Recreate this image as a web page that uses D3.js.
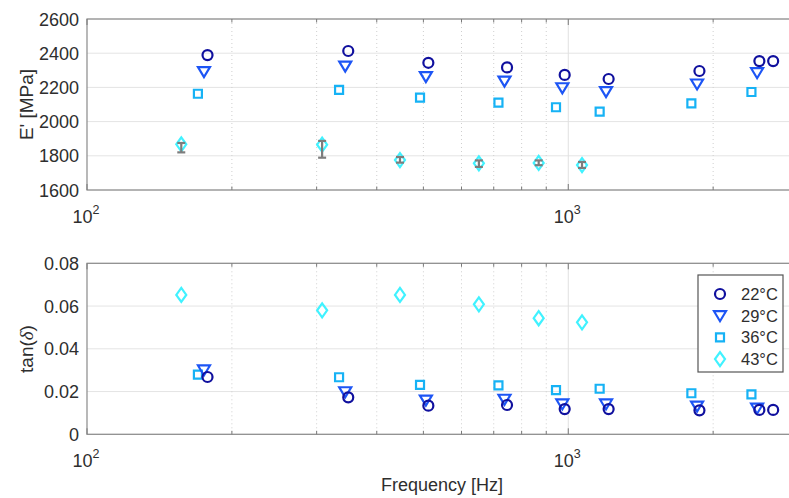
<!DOCTYPE html>
<html>
<head>
<meta charset="utf-8">
<script src="https://cdn.jsdelivr.net/npm/d3@7"></script>
<style>
  html, body { margin: 0; padding: 0; background: #fff; }
  svg { display: block; }
  text { font-family: "Liberation Sans", Arial, Helvetica, sans-serif; fill: #2e2e2e; }
</style>
</head>
<body>
<svg id="chart" width="789" height="498"></svg>
<script>
// ---------------- DATA ----------------
const seriesNames = ["22°C", "29°C", "36°C", "43°C"];

const freq22 = [178, 349, 512, 746, 983, 1213, 1873, 2495, 2665];
const E22    = [2389, 2413, 2344, 2317, 2273, 2249, 2296, 2354, 2354];
const tan22  = [0.0268, 0.0173, 0.0134, 0.0137, 0.0118, 0.0118, 0.0112, 0.0114, 0.0114];

const freq29 = [175, 344, 506, 737, 972, 1198, 1852, 2468];
const E29    = [2292, 2325, 2263, 2237, 2198, 2175, 2220, 2286];
const tan29  = [0.0301, 0.0199, 0.0160, 0.0164, 0.0142, 0.0142, 0.0132, 0.0122];

const freq36 = [170, 334, 492, 716, 943, 1162, 1802, 2402];
const E36    = [2163, 2185, 2140, 2111, 2084, 2058, 2107, 2173];
const tan36  = [0.0279, 0.0267, 0.0231, 0.0229, 0.0207, 0.0213, 0.0192, 0.0187];

const freq43 = [157, 308, 447, 652, 868, 1068];
const E43    = [1867, 1865, 1775, 1756, 1758, 1746];
const tan43  = [0.0652, 0.0580, 0.0652, 0.0608, 0.0543, 0.0524];
const E43errLow  = [1820, 1789, 1760, 1735, 1745, 1729];
const E43errHigh = [1875, 1887, 1793, 1773, 1773, 1764];

const yTicksTop = [1600, 1800, 2000, 2200, 2400, 2600];
const yTickLabelsTop = ["1600", "1800", "2000", "2200", "2400", "2600"];
const yTicksBot = [0, 0.02, 0.04, 0.06, 0.08];
const yTickLabelsBot = ["0", "0.02", "0.04", "0.06", "0.08"];
const xMajorTicks = [100, 1000];
const xMajorExp = ["2", "3"];
const xMinorTicks = [200, 300, 400, 500, 600, 700, 800, 900, 2000];

// ---------------- LAYOUT ----------------
const svg = d3.select("#chart");
const left = 87, right = 797.9;
const topPanel = { top: 19, bottom: 190 };
const botPanel = { top: 263.3, bottom: 434.3 };

const x = d3.scaleLog().domain([100, 3000]).range([left, right]);
const yT = d3.scaleLinear().domain([1600, 2600]).range([topPanel.bottom, topPanel.top]);
const yB = d3.scaleLinear().domain([0, 0.08]).range([botPanel.bottom, botPanel.top]);

const colors = ["#10109e", "#1d55f5", "#16b2f5", "#40f2ff"];

function markerPath(kind) {
  switch (kind) {
    case 0: { const p = d3.path(); p.arc(0, 0, 5, 0, 2 * Math.PI); p.closePath(); return p.toString(); }
    case 1: return "M-6,-4.5L6,-4.5L0,5.5Z";
    case 2: return "M-4,-4L4,-4L4,4L-4,4Z";
    case 3: return "M0,-7L5,0L0,7L-5,0Z";
  }
}

function drawPanel(p, y, yTicks, yLabels) {
  const g = svg.append("g");
  g.selectAll("line.yg").data(yTicks).enter().append("line")
    .attr("x1", left).attr("x2", right)
    .attr("y1", d => y(d)).attr("y2", d => y(d))
    .attr("stroke", "#e4e4e4").attr("stroke-width", 1);
  g.selectAll("line.xmg").data(xMinorTicks).enter().append("line")
    .attr("x1", d => x(d)).attr("x2", d => x(d))
    .attr("y1", p.top).attr("y2", p.bottom)
    .attr("stroke", "#cfcfcf").attr("stroke-width", 1).attr("stroke-dasharray", "1,3");
  g.selectAll("line.xg").data(xMajorTicks.slice(1)).enter().append("line")
    .attr("x1", d => x(d)).attr("x2", d => x(d))
    .attr("y1", p.top).attr("y2", p.bottom)
    .attr("stroke", "#e0e0e0").attr("stroke-width", 1);
  g.append("rect").attr("x", left).attr("y", p.top)
    .attr("width", right - left).attr("height", p.bottom - p.top)
    .attr("fill", "none").attr("stroke", "#8a8a8a").attr("stroke-width", 1.2);
  const ticks = xMinorTicks.map(v => ({ v, len: 3.5 })).concat(xMajorTicks.map(v => ({ v, len: 6 })));
  [p.bottom, p.top].forEach((yy, i) => {
    g.selectAll(null).data(ticks).enter().append("line")
      .attr("x1", d => x(d.v)).attr("x2", d => x(d.v))
      .attr("y1", yy).attr("y2", d => i === 0 ? yy - d.len : yy + d.len)
      .attr("stroke", "#7a7a7a").attr("stroke-width", 1);
  });
  g.selectAll("text.yl").data(yTicks).enter().append("text")
    .attr("x", 79).attr("y", d => y(d) + 6.5)
    .attr("text-anchor", "end").attr("font-size", 18)
    .text((d, i) => yLabels[i]);
  xMajorTicks.forEach((v, i) => {
    const t = g.append("text").attr("x", x(v) - 1).attr("y", p.bottom + 33)
      .attr("text-anchor", "middle").attr("font-size", 18);
    t.append("tspan").text("10");
    t.append("tspan").attr("font-size", 12.5).attr("dy", -9).text(xMajorExp[i]);
  });
  return g;
}

drawPanel(topPanel, yT, yTicksTop, yTickLabelsTop);
drawPanel(botPanel, yB, yTicksBot, yTickLabelsBot);

svg.append("text").attr("transform", "translate(33,104.5) rotate(-90)")
  .attr("text-anchor", "middle").attr("font-size", 19).text("E' [MPa]");
const tl = svg.append("text").attr("transform", "translate(33,349) rotate(-90)")
  .attr("text-anchor", "middle").attr("font-size", 19);
tl.append("tspan").text("tan(");
tl.append("tspan").attr("font-style", "italic").attr("font-family", "'Liberation Serif', 'DejaVu Serif', serif").text("δ");
tl.append("tspan").text(")");
svg.append("text").attr("x", 442).attr("y", 491)
  .attr("text-anchor", "middle").attr("font-size", 18).text("Frequency [Hz]");

const series = [
  { f: freq43, E: E43, t: tan43, k: 3 },
  { f: freq36, E: E36, t: tan36, k: 2 },
  { f: freq29, E: E29, t: tan29, k: 1 },
  { f: freq22, E: E22, t: tan22, k: 0 },
];

const marks = svg.append("g");
series.forEach(s => {
  const pts = s.f.map((f, i) => ({ f, E: s.E[i], t: s.t[i] }));
  [[yT, "E"], [yB, "t"]].forEach(([y, key]) => {
    marks.selectAll(null).data(pts).enter().append("path")
      .attr("d", markerPath(s.k))
      .attr("transform", d => `translate(${x(d.f)},${y(d[key])})`)
      .attr("fill", "none").attr("stroke", colors[s.k])
      .attr("stroke-width", 2.2).attr("stroke-linejoin", "miter");
  });
});

const eb = freq43.map((f, i) => ({ f, lo: E43errLow[i], hi: E43errHigh[i] }));
const ebg = svg.append("g").attr("stroke", "#7d7d7d").attr("stroke-width", 2.2);
ebg.selectAll(null).data(eb).enter().append("line")
  .attr("x1", d => x(d.f)).attr("x2", d => x(d.f))
  .attr("y1", d => yT(d.lo)).attr("y2", d => yT(d.hi));
["lo", "hi"].forEach(k => {
  ebg.selectAll(null).data(eb).enter().append("line")
    .attr("x1", d => x(d.f) - 4).attr("x2", d => x(d.f) + 4)
    .attr("y1", d => yT(d[k])).attr("y2", d => yT(d[k]));
});

const lg = svg.append("g");
lg.append("rect").attr("x", 698).attr("y", 275).attr("width", 85).attr("height", 97)
  .attr("fill", "#fff").attr("stroke", "#555").attr("stroke-width", 1.2);
const legendRows = [0, 1, 2, 3];
lg.selectAll(null).data(legendRows).enter().append("path")
  .attr("d", d => markerPath(d))
  .attr("transform", d => `translate(720,${294 + d * 21.7})`)
  .attr("fill", "none").attr("stroke", d => colors[d]).attr("stroke-width", 2.2);
lg.selectAll(null).data(legendRows).enter().append("text")
  .attr("x", 741).attr("y", d => 294 + d * 21.7 + 6)
  .attr("font-size", 16.5).text(d => seriesNames[d]);
</script>
</body>
</html>
